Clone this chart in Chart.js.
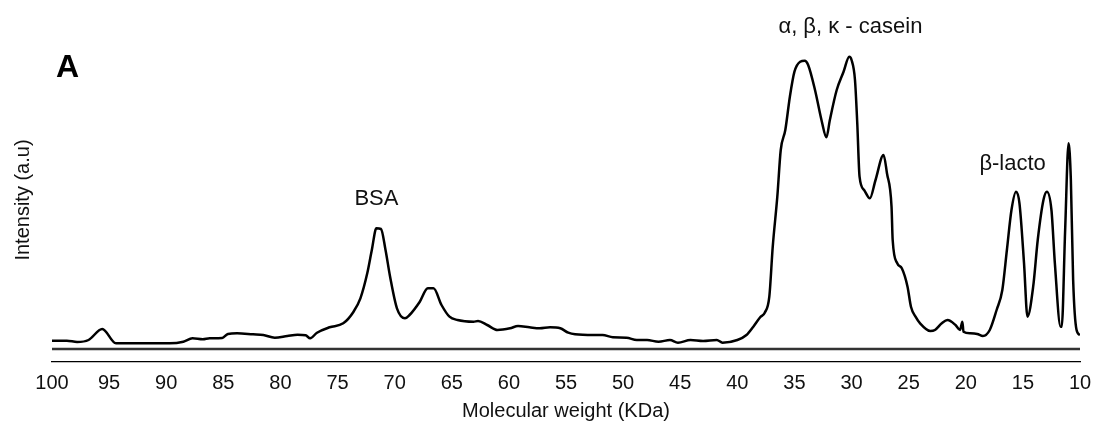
<!DOCTYPE html>
<html>
<head>
<meta charset="utf-8">
<script src="https://cdn.jsdelivr.net/npm/chart.js@4"></script>
<style>
  html, body { margin: 0; padding: 0; background: #fff; }
</style>
</head>
<body>
<canvas id="myChart" width="1093" height="423"></canvas>
<script>
// molecular weight (KDa), left to right
const mw = [
  100, 98.7, 97.8, 96.8, 95.6, 94.4, 89.7, 88.5, 87.7, 86.8, 86.2, 85.1, 84.6, 83.8,
  82.4, 81.5, 80.5, 79.4, 78.5, 77.8, 77.4, 76.8, 75.7, 74.5, 73.6, 73.0, 72.4, 72.0,
  71.6, 71.2, 70.8, 70.4, 69.8, 69.1, 68.7, 67.8, 67.1, 66.6, 65.9, 65.2, 64.5, 63.1,
  62.7, 61.9, 61.0, 59.9, 59.2, 58.2, 57.3, 56.4, 55.5, 54.8, 54.2, 52.6, 51.8, 50.9,
  49.7, 48.8, 47.9, 46.9, 45.9, 45.2, 44.1, 43.0, 41.8, 41.3, 40.0, 39.2, 38.6, 38.0,
  37.6, 37.2, 36.9, 36.5, 36.2, 35.8, 35.4, 35.0, 34.5, 34.1, 33.8, 33.2, 32.6, 32.2,
  31.9, 31.3, 30.7, 30.2, 30.0, 29.7, 29.5, 29.3, 28.9, 28.4, 27.9, 27.2, 26.9, 26.5,
  26.4, 26.0, 25.6, 25.1, 24.8, 24.4, 24.0, 23.1, 22.7, 22.1, 21.6, 20.9, 20.5, 20.3,
  20.2, 19.6, 19.0, 18.5, 17.9, 17.3, 16.8, 16.4, 16.0, 15.6, 15.3, 14.9, 14.6, 14.1,
  13.7, 13.2, 12.9, 12.5, 12.2, 11.7, 11.6, 11.3, 11.0, 10.8, 10.6, 10.3, 10.0
];
// intensity (a.u.)
const intensity = [
  8.3, 8.3, 7, 9, 20, 5.7, 5.7, 7.3, 10.7, 9.7, 10.7, 11, 15, 15.7,
  14.7, 14, 11.3, 13, 14.3, 13.7, 10.7, 16.3, 21.7, 25.7, 37.3, 50.7, 75.7, 99,
  120.7, 120, 99, 72.3, 40.7, 30.7, 34, 47.3, 60.7, 60.7, 44, 32.3, 29, 27.3,
  28, 24, 19, 20.7, 23, 21.7, 20.7, 21.7, 20.7, 16.3, 14.7, 14, 14, 11.7,
  11.3, 9, 9, 7.3, 9, 6.3, 9, 8, 9, 6.3, 9, 14, 22.3, 31.7,
  36.3, 52.3, 102.3, 152.3, 199, 219, 252.3, 277.3, 287.3, 288.3, 284, 259, 227.3, 211.7,
  229, 259, 277.3, 292.3, 289, 269, 225.7, 172.3, 159, 150.7, 169, 194, 175.7, 142.3,
  109, 85.7, 80.7, 62.3, 42.3, 32.3, 25.7, 18, 19, 25.7, 29, 24, 19, 27.3,
  17.3, 15.7, 15, 13, 19, 39, 59, 99, 139, 157.3, 145.7, 85.7, 32.3, 62.3,
  109, 149, 157.3, 139, 85.7, 22.3, 22.3, 119, 205.7, 169, 69, 19, 14
];
const xTicks = [100, 95, 90, 85, 80, 75, 70, 65, 60, 55, 50, 45, 40, 35, 30, 25, 20, 15, 10];

// peak labels: text, x (KDa), y (a.u.)
const peakLabels = [
  { text: 'BSA', x: 71.6, y: 150 },
  { text: 'α, β, κ - casein', x: 30.1, y: 322 },
  { text: 'β-lacto', x: 15.9, y: 185 }
];

const trace = mw.map((m, i) => ({ x: m, y: intensity[i] }));

const textFont = '"Liberation Sans", Arial, sans-serif';

const labelsPlugin = {
  id: 'labels',
  afterDatasetsDraw(chart) {
    const { ctx, scales: { x, y } } = chart;
    ctx.save();
    ctx.fillStyle = '#111';
    ctx.textAlign = 'center';
    ctx.textBaseline = 'middle';
    ctx.font = '22px ' + textFont;
    peakLabels.forEach(l => {
      ctx.fillText(l.text, x.getPixelForValue(l.x), y.getPixelForValue(l.y));
    });
    // panel letter
    ctx.font = 'bold 32px ' + textFont;
    ctx.textAlign = 'left';
    ctx.fillStyle = '#000';
    ctx.fillText('A', 56, 68);
    ctx.restore();
  }
};

const data = {
  datasets: [
    {
      label: 'trace',
      data: trace,
      borderColor: '#000',
      borderWidth: 2.5,
      pointRadius: 0,
      cubicInterpolationMode: 'monotone',
      fill: false
    },
    {
      label: 'baseline',
      data: [{ x: 100, y: 0 }, { x: 10, y: 0 }],
      borderColor: '#333',
      borderWidth: 2.5,
      pointRadius: 0
    }
  ]
};

const config = {
  type: 'line',
  data,
  options: {
    responsive: false,
    animation: false,
    layout: { padding: { top: 38, right: 13, bottom: 0, left: 0 } },
    plugins: {
      legend: { display: false },
      tooltip: { enabled: false }
    },
    scales: {
      x: {
        type: 'linear',
        reverse: true,
        min: 10,
        max: 100,
        afterFit: (scale) => {
          scale.height = 61;
          scale.paddingLeft = 0;
          scale.paddingRight = 0;
        },
        afterBuildTicks: (scale) => { scale.ticks = xTicks.map(v => ({ value: v })); },
        grid: { display: false, drawTicks: false },
        border: { display: true, color: '#000', width: 1.2 },
        ticks: {
          padding: 9,
          color: '#111',
          font: { family: textFont, size: 20 },
          maxRotation: 0,
          autoSkip: false
        },
        title: {
          display: true,
          text: 'Molecular weight (KDa)',
          color: '#111',
          font: { family: textFont, size: 20 },
          padding: { top: 0, bottom: 0 }
        }
      },
      y: {
        min: -13,
        max: 311,
        afterFit: (scale) => { scale.width = 52; },
        grid: { display: false, drawTicks: false },
        border: { display: false },
        ticks: { display: false },
        title: {
          display: true,
          text: 'Intensity (a.u)',
          color: '#111',
          font: { family: textFont, size: 20 },
          padding: { top: 11, bottom: 0 }
        }
      }
    }
  },
  plugins: [labelsPlugin]
};

const myChart = new Chart(document.getElementById('myChart'), config);
</script>
</body>
</html>
